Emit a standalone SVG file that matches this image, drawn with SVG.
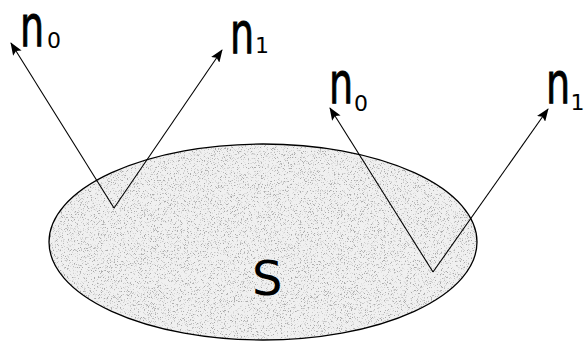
<svg xmlns="http://www.w3.org/2000/svg" width="584" height="343" viewBox="0 0 584 343">
<style>
.lbl{font-family:"DejaVu Sans",sans-serif;fill:#000}
.big{font-size:56px;stroke:#000;stroke-width:0.9}
.sub{font-size:22px}
.vec{stroke:#000;stroke-width:1.1;fill:none;marker-end:url(#ah)}
</style>
<defs>
<marker id="ah" viewBox="0 0 13 10" refX="12" refY="5" markerWidth="13" markerHeight="10" markerUnits="userSpaceOnUse" orient="auto">
<path d="M0,0 L13,5 L0,10 L2.5,5 z" fill="#000"/>
</marker>
<filter id="stip" x="0" y="0" width="1" height="1">
<feTurbulence type="fractalNoise" baseFrequency="1.3" numOctaves="2" seed="3" result="n"/>
<feColorMatrix in="n" type="matrix" values="0 0 0 0 0.4  0 0 0 0 0.4  0 0 0 0 0.4  6 0 0 0 -3.4" result="d"/>
<feComposite in="d" in2="SourceGraphic" operator="in" result="dots"/>
<feMerge><feMergeNode in="SourceGraphic"/><feMergeNode in="dots"/></feMerge>
</filter>
</defs>
<g id="surface">
<ellipse cx="263" cy="242" rx="214" ry="98" fill="#f0f0f0" filter="url(#stip)"/>
<ellipse cx="263" cy="242" rx="214" ry="98" fill="none" stroke="#000" stroke-width="1.3"/>
<text class="lbl" x="252" y="295" font-size="48">S</text>
</g>
<g id="connectors">
<path class="vec" d="M114,208 L11,43"/>
<path class="vec" d="M114,208 L222,50"/>
<path class="vec" d="M433,272 L330,108"/>
<path class="vec" d="M433,272 L548,109"/>
</g>
<g id="label-n0-left">
<text class="lbl big" transform="translate(20,46) scale(0.68,1)">n</text>
<text class="lbl sub" x="47" y="48">0</text>
</g>
<g id="label-n1-left">
<text class="lbl big" transform="translate(230,53) scale(0.68,1)">n</text>
<text class="lbl sub" x="255" y="53">1</text>
</g>
<g id="label-n0-right">
<text class="lbl big" transform="translate(329,103) scale(0.68,1)">n</text>
<text class="lbl sub" x="354" y="111">0</text>
</g>
<g id="label-n1-right">
<text class="lbl big" transform="translate(546,103) scale(0.68,1)">n</text>
<text class="lbl sub" x="570.5" y="110" font-size="21">1</text>
</g>
</svg>
